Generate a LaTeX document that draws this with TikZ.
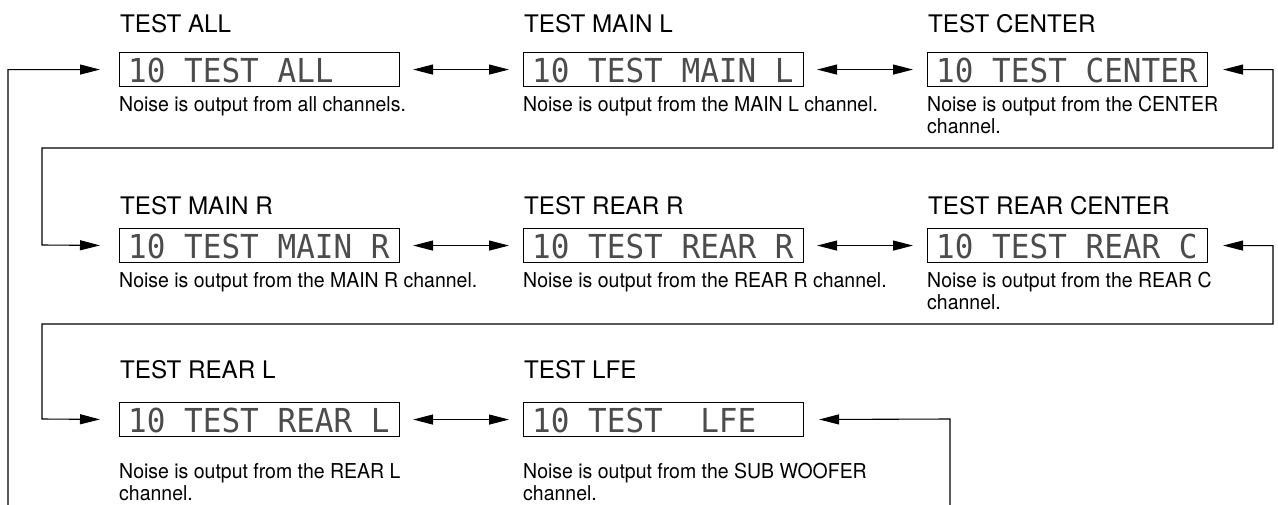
\documentclass[tikz,border=0pt]{standalone}
\usepackage{fontspec}
\setmainfont{TeX Gyre Heros}
\newfontfamily\lcdfont[FakeStretch=0.94]{DejaVu Sans Mono}
\newfontfamily\descfont[FakeStretch=0.95]{TeX Gyre Heros}
\usetikzlibrary{arrows.meta}
\tikzset{
  dispbox/.style={draw, line width=1.1pt, minimum width=280pt, minimum height=34pt, inner sep=0pt, anchor=north west},
  ttl/.style={anchor=base west, inner sep=0pt, font=\fontsize{24.2}{24}\selectfont},
  desc/.style={anchor=north west, inner sep=0pt, align=left, font=\descfont\fontsize{20.5}{22}\selectfont},
  lcd/.style={anchor=base west, inner sep=0pt, text=black!70, font=\lcdfont\fontsize{33}{33}\selectfont},
  wire/.style={line width=1.1pt},
  >={Triangle[length=20pt,width=10pt]}
}
\begin{document}
\begin{tikzpicture}[x=1pt,y=-1pt]
\useasboundingbox (0,0) rectangle (1278,504);
\clip (0,0) rectangle (1278,504);
% row 1
\node[dispbox] (b1a) at (119,52) {};
\node[dispbox] (b1b) at (523,52) {};
\node[dispbox] (b1c) at (927,52) {};
\node[ttl] (h1a) at (120,32) {TEST ALL};
\node[ttl] (h1b) at (524,32) {TEST MAIN L};
\node[ttl] (h1c) at (928,32) {TEST CENTER};
\node[lcd] (t1a) at (128,82) {10~TEST~ALL};
\node[lcd] (t1b) at (532,82) {10~TEST~MAIN~L};
\node[lcd] (t1c) at (936,82) {10~TEST~CENTER};
\node[desc] (d1a) at (119,96) {Noise is output from all channels.};
\node[desc] (d1b) at (523,96) {Noise is output from the MAIN L channel.};
\node[desc] (d1c) at (927,96) {Noise is output from the CENTER\\channel.};
% row 2
\node[dispbox] (b2a) at (119,228) {};
\node[dispbox] (b2b) at (523,228) {};
\node[dispbox] (b2c) at (927,228) {};
\node[ttl] (h2a) at (120,214) {TEST MAIN R};
\node[ttl] (h2b) at (524,214) {TEST REAR R};
\node[ttl] (h2c) at (928,214) {TEST REAR CENTER};
\node[lcd] (t2a) at (128,258) {10~TEST~MAIN~R};
\node[lcd] (t2b) at (532,258) {10~TEST~REAR~R};
\node[lcd] (t2c) at (936,258) {10~TEST~REAR~C};
\node[desc] (d2a) at (119,272) {Noise is output from the MAIN R channel.};
\node[desc] (d2b) at (523,272) {Noise is output from the REAR R channel.};
\node[desc] (d2c) at (927,272) {Noise is output from the REAR C\\channel.};
% row 3
\node[dispbox] (b3a) at (119,402) {};
\node[dispbox] (b3b) at (523,402) {};
\node[ttl] (h3a) at (120,378) {TEST REAR L};
\node[ttl] (h3b) at (524,378) {TEST LFE};
\node[lcd] (t3a) at (128,432) {10~TEST~REAR~L};
\node[lcd] (t3b) at (532,432) {10~TEST~~LFE};
\node[desc] (d3a) at (119,463) {Noise is output from the REAR L\\channel.};
\node[desc] (d3b) at (523,463) {Noise is output from the SUB WOOFER\\channel.};
% corners
\coordinate (k1) at (1273,148);
\coordinate (k2) at (42,245);
\coordinate (k3) at (1273,324);
\coordinate (k4) at (42,419);
\coordinate (kb1) at (8,540);
\coordinate (kb2) at (950,419);
% double arrows
\draw[wire,<->,shorten <=13pt,shorten >=14pt] (b1a.east) -- (b1b.west);
\draw[wire,<->,shorten <=13pt,shorten >=14pt] (b1b.east) -- (b1c.west);
\draw[wire,<->,shorten <=13pt,shorten >=14pt] (b2a.east) -- (b2b.west);
\draw[wire,<->,shorten <=13pt,shorten >=14pt] (b2b.east) -- (b2c.west);
\draw[wire,<->,shorten <=13pt,shorten >=14pt] (b3a.east) -- (b3b.west);
% loops
\draw[wire,<->,shorten <=15pt,shorten >=19pt] (b1c.east) -| (k1) -| (k2) -- (b2a.west);
\draw[wire,<->,shorten <=15pt,shorten >=19pt] (b2c.east) -| (k3) -| (k4) -- (b3a.west);
\draw[wire,<->,shorten <=19pt,shorten >=15pt] (b1a.west) -| (kb1) -| (kb2) -- (b3b.east);
\end{tikzpicture}
\end{document}
